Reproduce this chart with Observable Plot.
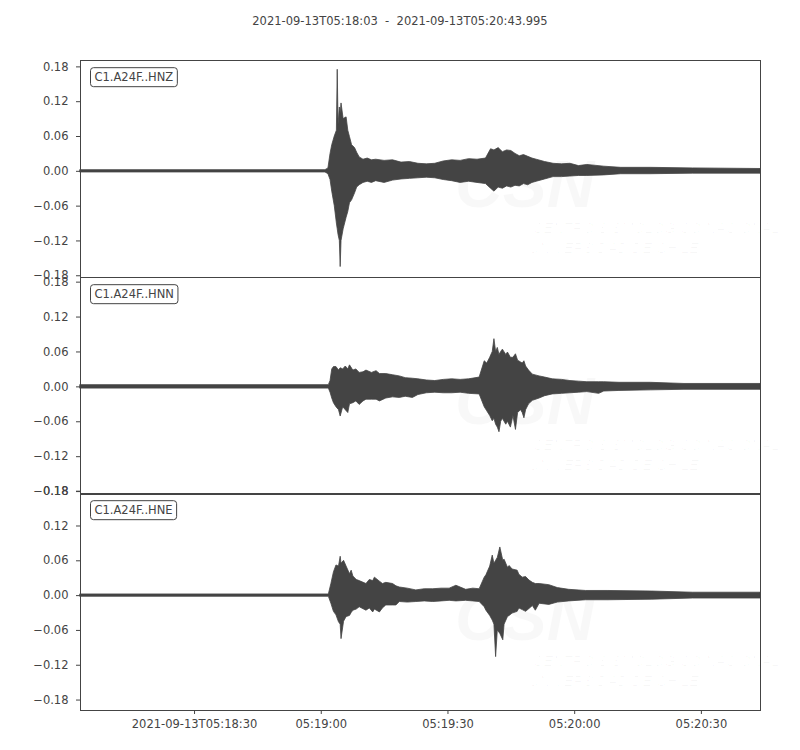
<!DOCTYPE html>
<html>
<head>
<meta charset="utf-8">
<script src="https://cdn.jsdelivr.net/npm/d3@7"></script>
<script src="https://cdn.jsdelivr.net/npm/@observablehq/plot@0.6"></script>
<style>
  body { margin: 0; background: white; font-family: "DejaVu Sans", sans-serif; }
  #wrap { position: relative; width: 800px; height: 750px; }
  #title { position: absolute; top: 14px; left: 0; width: 800px; text-align: center; font-size: 11.5px; color: #444; white-space: pre; }
  .panel { position: absolute; left: 0; }
</style>
</head>
<body>
<div id="wrap">
  <div id="title">2021-09-13T05:18:03  -  2021-09-13T05:20:43.995</div>
</div>
<script>
// seconds after 05:18:03, envelope (upper / lower)
const hnzTime = [0, 58.0, 58.7, 59.2, 59.6, 60.2, 60.7, 60.9, 61.1, 61.4, 61.6, 61.8, 62.3, 63.0, 63.4, 63.8, 64.3, 65.0, 65.5, 66.1, 67, 68, 69, 70, 72, 74, 76, 78, 80, 82, 84, 86, 88, 90, 92, 94, 96, 97.2, 98, 99, 100, 101, 102, 103, 104, 105, 106, 107, 108, 110, 112, 114, 116, 118, 120, 124, 128, 135, 145, 161];
const hnzHigh = [0.002, 0.002, 0.005, 0.03, 0.045, 0.06, 0.07, 0.175, 0.08, 0.11, 0.10, 0.117, 0.09, 0.093, 0.07, 0.059, 0.045, 0.04, 0.032, 0.024, 0.02, 0.022, 0.019, 0.02, 0.018, 0.019, 0.015, 0.016, 0.013, 0.012, 0.013, 0.017, 0.019, 0.018, 0.021, 0.02, 0.022, 0.038, 0.036, 0.04, 0.033, 0.036, 0.035, 0.03, 0.026, 0.028, 0.025, 0.022, 0.02, 0.016, 0.013, 0.012, 0.013, 0.009, 0.011, 0.008, 0.006, 0.006, 0.005, 0.004];
const hnzLow = [-0.002, -0.002, -0.005, -0.015, -0.035, -0.06, -0.09, -0.10, -0.11, -0.12, -0.165, -0.12, -0.10, -0.08, -0.07, -0.055, -0.05, -0.038, -0.028, -0.024, -0.02, -0.018, -0.02, -0.017, -0.02, -0.016, -0.014, -0.013, -0.012, -0.011, -0.012, -0.015, -0.017, -0.02, -0.018, -0.02, -0.022, -0.03, -0.035, -0.028, -0.03, -0.026, -0.028, -0.025, -0.026, -0.022, -0.024, -0.02, -0.018, -0.014, -0.01, -0.01, -0.009, -0.008, -0.008, -0.007, -0.005, -0.005, -0.004, -0.004];

const hnnTime = [0, 58.8, 59.2, 59.6, 60.0, 60.6, 61.2, 61.6, 62.2, 62.8, 63.4, 63.8, 64.6, 65.3, 66.1, 67.0, 67.7, 69, 70.1, 70.9, 72.4, 74, 75.6, 77, 78.7, 80, 82, 84, 86, 88, 90, 92, 94.5, 95.7, 96.3, 97.0, 97.6, 98.0, 98.4, 98.8, 99.2, 99.6, 100.0, 100.8, 101.2, 101.9, 102.5, 103.1, 103.6, 104.3, 104.7, 105.1, 105.5, 106.2, 107.1, 108.7, 110, 111.8, 114, 116, 118, 120, 122.8, 124, 127.6, 135, 143, 161];
const hnnHigh = [0.003, 0.003, 0.01, 0.03, 0.034, 0.034, 0.028, 0.032, 0.03, 0.035, 0.03, 0.037, 0.028, 0.03, 0.024, 0.025, 0.028, 0.024, 0.027, 0.022, 0.022, 0.02, 0.018, 0.015, 0.014, 0.013, 0.011, 0.01, 0.012, 0.013, 0.012, 0.013, 0.016, 0.044, 0.04, 0.05, 0.06, 0.082, 0.06, 0.067, 0.055, 0.06, 0.064, 0.055, 0.059, 0.05, 0.05, 0.056, 0.045, 0.042, 0.04, 0.044, 0.035, 0.028, 0.021, 0.018, 0.016, 0.013, 0.012, 0.01, 0.009, 0.008, 0.008, 0.008, 0.007, 0.007, 0.005, 0.005];
const hnnLow = [-0.003, -0.003, -0.01, -0.02, -0.028, -0.035, -0.04, -0.051, -0.035, -0.04, -0.045, -0.03, -0.028, -0.025, -0.031, -0.025, -0.022, -0.022, -0.022, -0.025, -0.02, -0.018, -0.019, -0.017, -0.019, -0.014, -0.011, -0.01, -0.011, -0.011, -0.01, -0.012, -0.013, -0.035, -0.042, -0.05, -0.059, -0.055, -0.065, -0.07, -0.078, -0.06, -0.055, -0.065, -0.06, -0.07, -0.05, -0.074, -0.045, -0.04, -0.045, -0.054, -0.04, -0.03, -0.024, -0.02, -0.016, -0.013, -0.012, -0.011, -0.01, -0.009, -0.012, -0.008, -0.007, -0.006, -0.005, -0.005];

const hneTime = [0, 58.8, 59.4, 60.0, 60.6, 61.2, 61.6, 61.8, 62.4, 63.0, 63.8, 64.2, 64.6, 65.4, 66.1, 67.7, 68.5, 69.3, 69.7, 70.9, 71.6, 72.4, 74.0, 74.8, 75.6, 77.5, 79.5, 81.5, 83.5, 85.5, 87.4, 89.0, 91.3, 93, 94.5, 95.7, 96.1, 97.0, 97.6, 98.0, 98.4, 98.8, 99.4, 100.1, 100.4, 101.2, 101.6, 102.3, 103.5, 103.9, 104.7, 105.5, 106.3, 107.1, 107.8, 108.7, 111.0, 113, 115.7, 119.7, 125, 135.4, 145, 161];
const hneHigh = [0.002, 0.002, 0.02, 0.04, 0.052, 0.05, 0.067, 0.055, 0.06, 0.05, 0.037, 0.043, 0.033, 0.027, 0.025, 0.02, 0.027, 0.025, 0.031, 0.024, 0.02, 0.022, 0.02, 0.016, 0.014, 0.012, 0.009, 0.011, 0.011, 0.012, 0.012, 0.017, 0.01, 0.012, 0.011, 0.031, 0.035, 0.05, 0.069, 0.055, 0.06, 0.065, 0.083, 0.06, 0.062, 0.048, 0.051, 0.045, 0.043, 0.036, 0.031, 0.032, 0.026, 0.022, 0.02, 0.02, 0.018, 0.013, 0.01, 0.008, 0.008, 0.007, 0.005, 0.005];
const hneLow = [-0.002, -0.002, -0.014, -0.028, -0.034, -0.046, -0.05, -0.075, -0.045, -0.037, -0.035, -0.03, -0.026, -0.024, -0.02, -0.026, -0.022, -0.029, -0.024, -0.029, -0.022, -0.017, -0.017, -0.017, -0.011, -0.012, -0.011, -0.01, -0.011, -0.01, -0.009, -0.01, -0.009, -0.01, -0.011, -0.02, -0.026, -0.035, -0.043, -0.05, -0.106, -0.06, -0.066, -0.077, -0.05, -0.037, -0.035, -0.031, -0.028, -0.022, -0.025, -0.028, -0.023, -0.018, -0.026, -0.014, -0.016, -0.012, -0.01, -0.008, -0.008, -0.007, -0.005, -0.005];

const channels = ["C1.A24F..HNZ", "C1.A24F..HNN", "C1.A24F..HNE"];
const yTicks = [-0.18, -0.12, -0.06, 0, 0.06, 0.12, 0.18];
const xTickTimes = ["05:18:30", "05:19:00", "05:19:30", "05:20:00", "05:20:30"];
const xTickLabels = ["2021-09-13T05:18:30", "05:19:00", "05:19:30", "05:20:00", "05:20:30"];

const start = Date.UTC(2021, 8, 13, 5, 18, 3);
const end = start + 160995;
const toDate = s => new Date(Date.UTC(2021, 8, 13, ...s.split(":").map(Number)));
const xTicks = xTickTimes.map(toDate);

const panels = [
  {name: channels[0], time: hnzTime, hi: hnzHigh, lo: hnzLow, y: [-0.183, 0.191], top: 60},
  {name: channels[1], time: hnnTime, hi: hnnHigh, lo: hnnLow, y: [-0.185, 0.188], top: 277},
  {name: channels[2], time: hneTime, hi: hneHigh, lo: hneLow, y: [-0.198, 0.176], top: 493}
];

const wrap = document.getElementById("wrap");
const ink = "#444";

panels.forEach((p, k) => {
  const last = k === panels.length - 1;
  const data = p.time.map((t, i) => ({date: new Date(start + t * 1000), hi: p.hi[i], lo: p.lo[i]}));

  const chart = Plot.plot({
    width: 800,
    height: last ? 257 : 217,
    marginLeft: 80,
    marginRight: 40,
    marginTop: 0,
    marginBottom: last ? 40 : 0,
    style: {background: "transparent", overflow: "visible", fontFamily: "DejaVu Sans", fontSize: "11.5px", color: ink},
    x: {type: "utc", domain: [new Date(start), new Date(end)], axis: last ? undefined : null},
    y: {domain: p.y},
    marks: [
      Plot.areaY(data, {x: "date", y1: "lo", y2: "hi", fill: ink, stroke: ink, strokeWidth: 0.8}),
      Plot.frame({stroke: ink}),
      Plot.axisY(yTicks, {tickFormat: d3.format(".2f"), tickSize: 4, tickPadding: 8, stroke: ink, fill: ink, fontSize: 11.5}),
      last ? Plot.axisX(xTicks, {
        tickFormat: d => xTickLabels[xTicks.findIndex(t => +t === +d)],
        tickSize: 4, tickPadding: 5, stroke: ink, fill: ink, fontSize: 11.5
      }) : null,
      Plot.text([p.name], {frameAnchor: "top-left", dx: 14, dy: 17, lineAnchor: "middle", textAnchor: "start", fill: ink, fontSize: 11.5})
    ]
  });

  chart.classList.add("panel");
  chart.style.top = p.top + "px";
  wrap.appendChild(chart);

  const svg = d3.select(chart);

  // faint CSN watermark behind the trace
  const wm = svg.insert("g", "g").attr("fill", "#000").attr("fill-opacity", 0.028)
    .attr("text-anchor", "start")
    .attr("font-family", "Liberation Sans, sans-serif").attr("font-style", "italic");
  wm.append("text").attr("x", 455).attr("y", 147).attr("font-size", 66).attr("font-weight", "bold").text("CSN");
  wm.append("text").attr("x", 533).attr("y", 173).attr("font-size", 14.5).text("CENTRO SISMOLÓGICO NACIONAL");
  wm.append("text").attr("x", 529).attr("y", 193).attr("font-size", 14.5).text("UNIVERSIDAD DE CHILE");

  // rounded box round the channel label
  const label = svg.select('g[aria-label="text"] text').node();
  const bb = label.getBBox();
  d3.select(label.parentNode).insert("rect", "text")
    .attr("transform", label.getAttribute("transform"))
    .attr("x", bb.x - 4).attr("y", bb.y - 2.5)
    .attr("width", bb.width + 8).attr("height", bb.height + 5)
    .attr("rx", 3).attr("fill", "white").attr("stroke", ink).attr("stroke-width", 1);
});
</script>
</body>
</html>
